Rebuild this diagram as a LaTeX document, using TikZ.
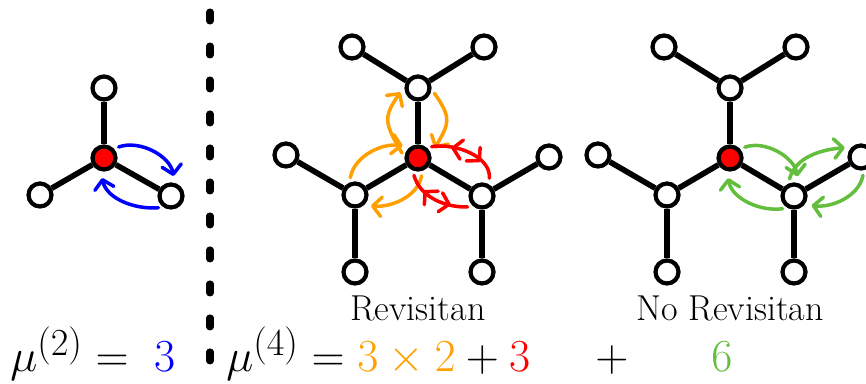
\documentclass[tikz,border=0pt]{standalone}
\usepackage{fontspec}
\usetikzlibrary{arrows.meta, decorations.markings, positioning}
\definecolor{walkorange}{RGB}{255,160,0}
\definecolor{walkgreen}{RGB}{98,190,60}
\definecolor{walkblue}{RGB}{0,0,255}
\definecolor{walkred}{RGB}{255,0,0}

\tikzset{
    site/.style={circle, draw=black, line width=2.4pt, fill=white, minimum size=0.46cm, inner sep=0pt},
    root/.style={site, fill=walkred},
    bond/.style={line width=3.2pt},
    hop/.style={line width=2pt, line cap=round, shorten <=0.1cm, shorten >=0.14cm,
        -{Straight Barb[round, length=5pt, width=11pt]}},
    backforth/.style={line width=2pt, line cap=round, shorten <=0.1cm, shorten >=0.12cm,
        postaction={decorate}, decoration={markings,
        mark=at position 0.3 with {\arrowreversed{Straight Barb[round, length=5pt, width=11pt]}},
        mark=at position 0.7 with {\arrow{Straight Barb[round, length=5pt, width=11pt]}}}},
    divider/.style={line width=4pt, line cap=round, dash pattern=on 0.18cm off 0.5cm},
    lab/.style={inner sep=0pt, font=\fontsize{20.5}{25}\selectfont},
    eq/.style={inner sep=0pt, font=\fontsize{24.88}{30}\selectfont}
}
\newcommand{\bigeq}[1]{\scalebox{1.05}{#1}}

\begin{document}
\begin{tikzpicture}[x=0.02cm, y=-0.02cm]
    \useasboundingbox (0,0) rectangle (866,384);

    % Small tree
    \node[root] (l-c) at (104,158) {};
    \node[site] (l-t) at (104,88) {};
    \node[site] (l-l) at (40,195) {};
    \node[site] (l-r) at (171,196) {};
    \foreach \n in {t,l,r} {
        \draw[bond] (l-c) -- (l-\n);
    }
    \draw[hop, walkblue] (l-c.43) to[out=20, in=100] (l-r.74);
    \draw[hop, walkblue] (l-r.236) to[out=185, in=-78] (l-c.256);

    % Divider
    \coordinate (divtop) at (210,12);
    \coordinate (divbot) at (210,361);
    \draw[divider] (divtop) -- (divbot);

    % Two big trees
    \foreach \p/\cx in {m/418, r/730} {
        \node[root] (\p-c) at (\cx,158) {};
        \node[site] (\p-t) at (\cx,88) {};
        \node[site] (\p-tl) at (\cx-66,47) {};
        \node[site] (\p-tr) at (\cx+66,47) {};
        \node[site] (\p-l) at (\cx-63,195) {};
        \node[site] (\p-ll) at (\cx-132,155) {};
        \node[site] (\p-lb) at (\cx-63,272) {};
        \node[site] (\p-r) at (\cx+64,196) {};
        \node[site] (\p-rr) at (\cx+131,157) {};
        \node[site] (\p-rb) at (\cx+64,272) {};
        \draw[bond] (\p-c) -- (\p-t);
        \draw[bond] (\p-c) -- (\p-l);
        \draw[bond] (\p-c) -- (\p-r);
        \draw[bond] (\p-t) -- (\p-tl);
        \draw[bond] (\p-t) -- (\p-tr);
        \draw[bond] (\p-l) -- (\p-ll);
        \draw[bond] (\p-l) -- (\p-lb);
        \draw[bond] (\p-r) -- (\p-rr);
        \draw[bond] (\p-r) -- (\p-rb);
    }

    % Revisiting walks
    \draw[hop, walkorange] (m-c.177) to[out=120, in=235, looseness=1.4] (m-t.174);
    \draw[hop, walkorange] (m-t.-5) to[out=-55, in=60, looseness=1.4] (m-c.15);
    \draw[hop, walkorange] (m-l.114) to[out=80, in=170] (m-c.128);
    \draw[hop, walkorange] (m-c.-71) to[out=-100, in=-5] (m-l.-49);
    \draw[backforth, walkred] (m-c.50) to[out=10, in=85] (m-r.60);
    \draw[backforth, walkred] (m-c.-113) to[out=-75, in=182] (m-r.-128);

    % Non-revisiting walks
    \draw[hop, walkgreen] (r-c.42) to[out=20, in=100] (r-r.70);
    \draw[hop, walkgreen] (r-r.115) to[out=75, in=185] (r-rr.133);
    \draw[hop, walkgreen] (r-rr.-78) to[out=-100, in=-8] (r-r.-38);
    \draw[hop, walkgreen] (r-r.-118) to[out=188, in=-80] (r-c.-103);

    % Labels
    \node[lab, anchor=base] (rev) at (418,321) {Revisitan};
    \node[lab, anchor=base] (norev) at (730,321) {No Revisitan};
    \node[eq, anchor=base west] (mu2) at (10,372) {\bigeq{$\mu^{(2)} =\;\textcolor{walkblue}{3}$}};
    \node[eq, anchor=base west] (mu4) at (226,372) {\bigeq{$\mu^{(4)} = \textcolor{walkorange}{3\times 2} + \textcolor{walkred}{3}$}};
    \node[eq, anchor=base] (plus) at (612,372) {\bigeq{$+$}};
    \node[eq, anchor=base] (six) at (722,372) {\bigeq{$\textcolor{walkgreen}{6}$}};
\end{tikzpicture}
\end{document}
